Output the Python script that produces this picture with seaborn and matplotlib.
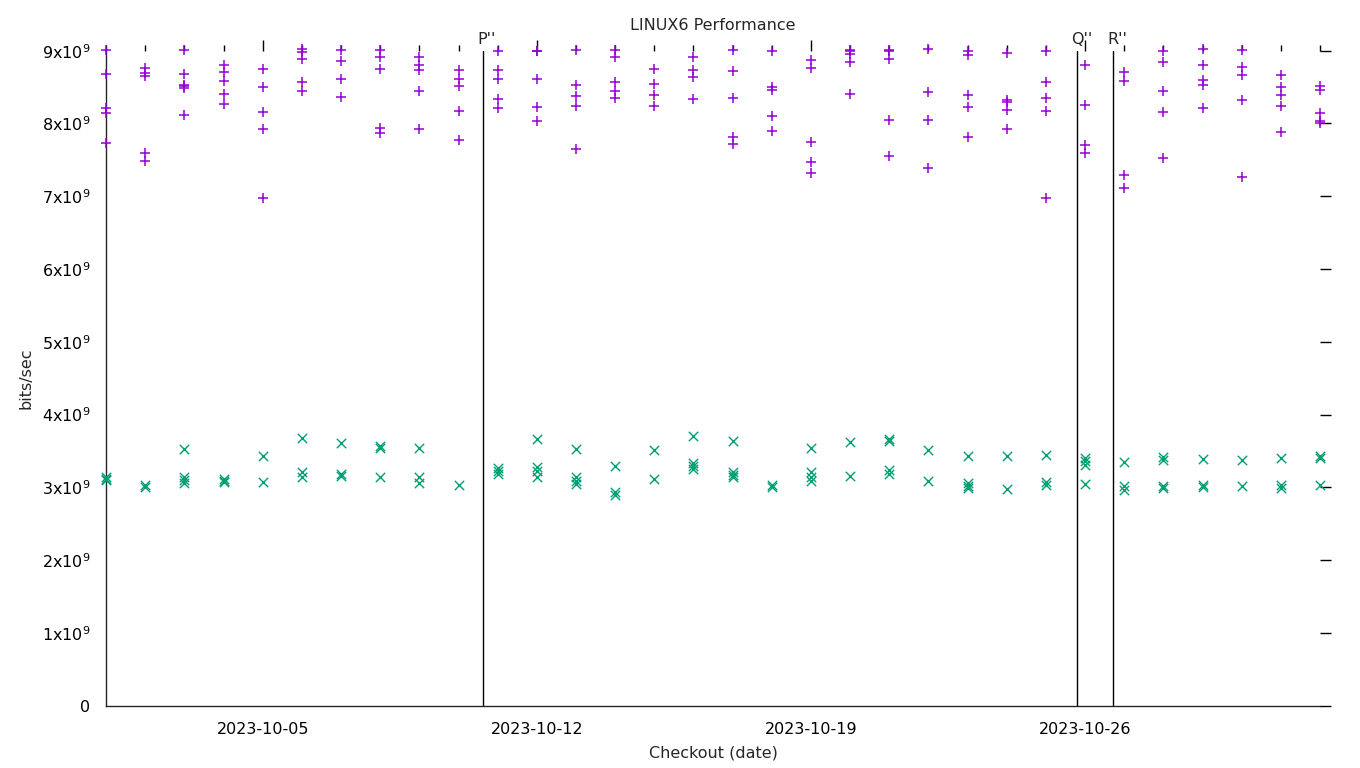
import pandas as pd
import seaborn as sns
import matplotlib.pyplot as plt
import matplotlib.dates as mdates
from matplotlib.ticker import FuncFormatter

# Checkout days (one column of samples per day)
days = pd.date_range("2023-10-01", "2023-11-01", freq="D")

# bits/sec in units of 1e9, purple "+" series
plus_vals = [
    [9.01, 8.68, 8.21, 8.15, 7.73],
    [8.76, 8.70, 8.65, 7.59, 7.48],
    [9.01, 8.68, 8.53, 8.51, 8.49, 8.11],
    [8.81, 8.71, 8.58, 8.40, 8.27],
    [8.75, 8.50, 8.16, 7.93, 6.98],
    [9.03, 8.98, 8.88, 8.57, 8.45],
    [9.01, 8.86, 8.61, 8.36],
    [9.01, 8.92, 8.75, 7.94, 7.87],
    [8.91, 8.81, 8.74, 8.45, 7.92],
    [8.73, 8.61, 8.51, 8.17, 7.77],
    [9.00, 8.74, 8.61, 8.33, 8.21],
    [9.00, 8.99, 8.61, 8.23, 8.03],
    [9.01, 8.53, 8.38, 8.24, 7.65],
    [9.01, 8.92, 8.57, 8.44, 8.35],
    [8.75, 8.54, 8.39, 8.24],
    [8.91, 8.73, 8.64, 8.34],
    [9.01, 8.72, 8.35, 7.82, 7.72],
    [9.00, 8.50, 8.46, 8.10, 7.89],
    [8.87, 8.76, 7.75, 7.47, 7.32],
    [9.01, 8.99, 8.95, 8.85, 8.40],
    [9.01, 8.99, 8.88, 8.05, 7.55],
    [9.03, 8.43, 8.05, 7.39],
    [8.99, 8.94, 8.39, 8.23, 7.82],
    [8.97, 8.32, 8.29, 8.18, 7.93],
    [9.00, 8.57, 8.35, 8.17, 6.98],
    [8.80, 8.26, 7.71, 7.60],
    [8.71, 8.59, 7.29, 7.11],
    [9.00, 8.84, 8.44, 8.16, 7.53],
    [9.03, 8.81, 8.60, 8.53, 8.21],
    [9.01, 8.78, 8.66, 8.32, 7.26],
    [8.67, 8.50, 8.39, 8.24, 7.88],
    [8.52, 8.46, 8.15, 8.04, 8.00],
]

# bits/sec in units of 1e9, green "x" series
cross_vals = [
    [3.14, 3.12, 3.10],
    [3.03, 3.01],
    [3.53, 3.14, 3.10, 3.06],
    [3.11, 3.09, 3.07],
    [3.43, 3.07],
    [3.68, 3.21, 3.14],
    [3.61, 3.19, 3.16],
    [3.57, 3.54, 3.15],
    [3.54, 3.14, 3.06],
    [3.04],
    [3.26, 3.22, 3.18],
    [3.66, 3.28, 3.22, 3.15],
    [3.53, 3.14, 3.09, 3.05],
    [3.29, 2.94, 2.89],
    [3.52, 3.12],
    [3.71, 3.34, 3.30, 3.25],
    [3.64, 3.21, 3.17, 3.15],
    [3.04, 3.01],
    [3.54, 3.21, 3.15, 3.09],
    [3.63, 3.16],
    [3.67, 3.64, 3.24, 3.19],
    [3.51, 3.09],
    [3.43, 3.06, 3.02, 2.99],
    [3.43, 2.98],
    [3.44, 3.08, 3.04],
    [3.40, 3.36, 3.31, 3.05],
    [3.35, 3.02, 2.96],
    [3.42, 3.38, 3.02, 2.99],
    [3.39, 3.04, 3.00],
    [3.38, 3.02],
    [3.40, 3.04, 2.99],
    [3.43, 3.40, 3.04],
]

# release markers
event_names = ["P''", "Q''", "R''"]
event_times = pd.to_datetime(["2023-10-10 15:00", "2023-10-25 19:00", "2023-10-26 17:00"])

# long form tables
plus_df = pd.DataFrame({"date": days, "bps": plus_vals}).explode("bps")
cross_df = pd.DataFrame({"date": days, "bps": cross_vals}).explode("bps")
plus_df["bps"] = plus_df["bps"].astype(float) * 1e9
cross_df["bps"] = cross_df["bps"].astype(float) * 1e9

sns.set_style("white")
plt.rcParams["font.family"] = ["DejaVu Sans"]

fig = plt.figure(figsize=(13.6, 7.68), dpi=100)
ax = fig.add_axes([0.078, 0.081, 0.8926, 0.853])

sns.scatterplot(data=plus_df, x="date", y="bps", marker="+", color="#9400d3",
                s=60, linewidth=1.1, ax=ax, clip_on=False, zorder=3)
sns.scatterplot(data=cross_df, x="date", y="bps", marker="x", color="#009e73",
                s=45, linewidth=1.0, ax=ax, clip_on=False, zorder=3)

for name, t in zip(event_names, event_times):
    ax.axvline(t, color="black", linewidth=1.0, zorder=2)
    ax.annotate(name, (t, 9e9), xytext=(-4, 3), textcoords="offset points",
                ha="left", va="bottom", fontsize=11.5)

ax.set_xlim(pd.Timestamp("2023-10-01"), pd.Timestamp("2023-11-01"))
ax.set_ylim(0, 9e9)

ax.xaxis.set_major_locator(mdates.DayLocator(bymonthday=[5, 12, 19, 26]))
ax.xaxis.set_minor_locator(mdates.DayLocator())
ax.xaxis.set_major_formatter(mdates.DateFormatter("%Y-%m-%d"))
ax.set_yticks([i * 1e9 for i in range(10)])
ax.yaxis.set_major_formatter(FuncFormatter(
    lambda v, p: "0" if v == 0 else f"{int(round(v / 1e9))}x10$^{{9}}$"))

for s in ["top", "right"]:
    ax.spines[s].set_visible(False)
for s in ["left", "bottom"]:
    ax.spines[s].set_linewidth(1.0)

ax.tick_params(which="both", direction="out", top=True, right=True,
               labelsize=11.5, width=1.0, colors="black")
ax.tick_params(which="major", length=8)
ax.tick_params(which="minor", length=4)
ax.tick_params(axis="y", which="minor", left=False, right=False)

ax.set_title("LINUX6 Performance", fontsize=11.5, pad=15)
ax.set_xlabel("Checkout (date)", fontsize=11.5, labelpad=6)
ax.set_ylabel("bits/sec", fontsize=11.5, labelpad=6)

fig.savefig("out.png", dpi=100)
